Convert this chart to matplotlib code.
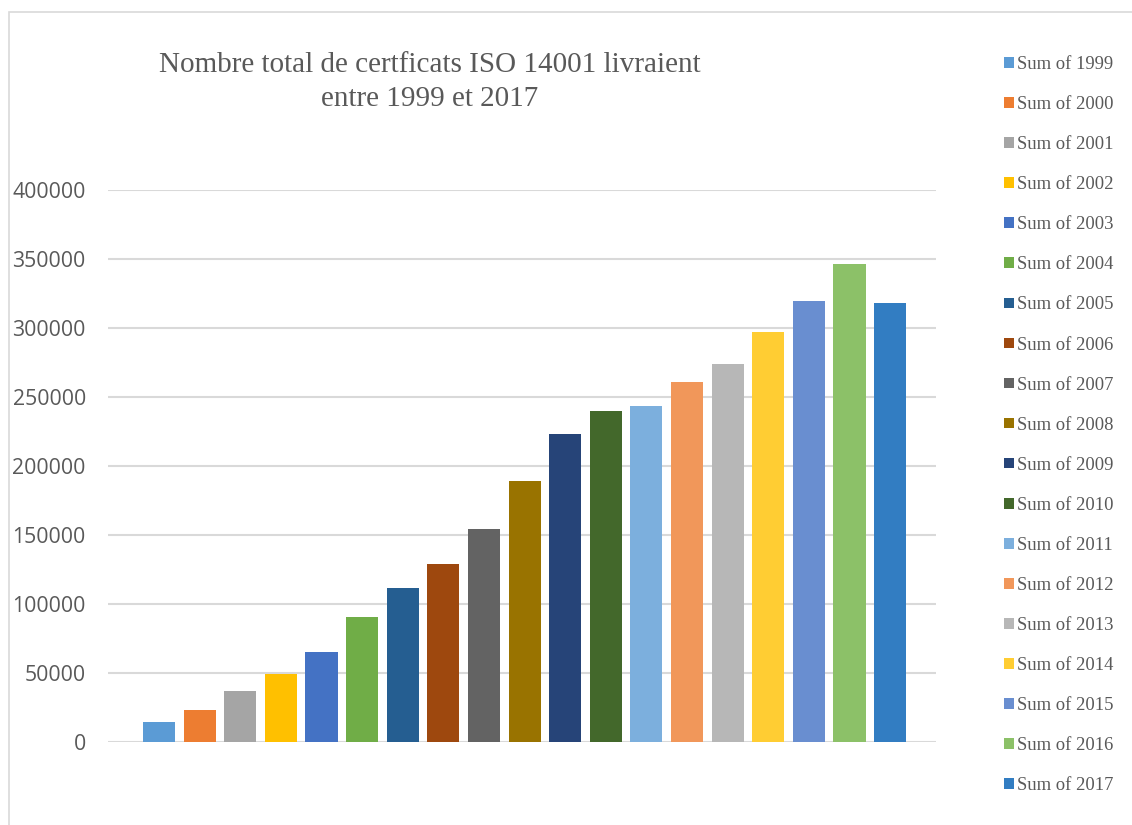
import matplotlib
matplotlib.use("Agg")
import matplotlib.pyplot as plt
from matplotlib.patches import Rectangle
import numpy as np

# Data
years = [1999, 2000, 2001, 2002, 2003, 2004, 2005, 2006, 2007, 2008,
         2009, 2010, 2011, 2012, 2013, 2014, 2015, 2016, 2017]
totals = [14400, 23000, 36800, 49000, 65000, 90300, 111300, 128700, 154700, 188800,
          223200, 239800, 243400, 260800, 273800, 297000, 319400, 346100, 318000]
colors = ['#5B9BD5', '#ED7D31', '#A5A5A5', '#FFC000', '#4472C4', '#70AD47',
          '#255E91', '#9E480E', '#636363', '#997300', '#264478', '#43682B',
          '#7CAFDD', '#F1975A', '#B7B7B7', '#FFCD33', '#698ED0', '#8CC168',
          '#327DC2']
labels = ["Sum of %d" % y for y in years]
title = "Nombre total de certficats ISO 14001 livraient\nentre 1999 et 2017"

W, H = 1132, 825
fig = plt.figure(figsize=(W / 100, H / 100), dpi=100)

# light grey chart border
fig.patches.append(Rectangle((9 / W, -0.01), 1.2, 1 - 12 / H + 0.01,
                             transform=fig.transFigure, fill=False,
                             edgecolor='#D9D9D9', linewidth=1.2))

ax = fig.add_axes([108 / W, 1 - 742 / H, (936 - 108) / W, (742 - 190) / H])

x = np.arange(len(years))
bars = ax.bar(x, totals, width=0.79, color=colors, zorder=3)

ax.set_ylim(0, 400000)
ax.set_xlim(-1.257, 19.13)
ax.set_yticks(np.arange(0, 400001, 50000))
ax.set_xticks([])
ax.grid(axis='y', color='#D9D9D9', linewidth=1.5, zorder=0)
for s in ax.spines.values():
    s.set_visible(False)
ax.tick_params(axis='y', length=0, pad=16, labelsize=15.3, labelcolor='#595959')
for t in ax.get_yticklabels():
    t.set_family('Open Sans')

fig.text(430 / W, 1 - 82 / H, title, ha='center', va='center',
         family='Liberation Serif', fontsize=21, color='#595959', linespacing=1.4)

leg = fig.legend(bars, labels, loc='upper left', bbox_to_anchor=(1004 / W, 1 - 56 / H),
                 frameon=False, prop={'family': 'Liberation Serif', 'size': 13.4},
                 labelcolor='#595959', handlelength=0.54, handleheight=0.5,
                 handletextpad=0.16, labelspacing=1.24, borderpad=0, borderaxespad=0)

fig.savefig("out.png", dpi=100)
